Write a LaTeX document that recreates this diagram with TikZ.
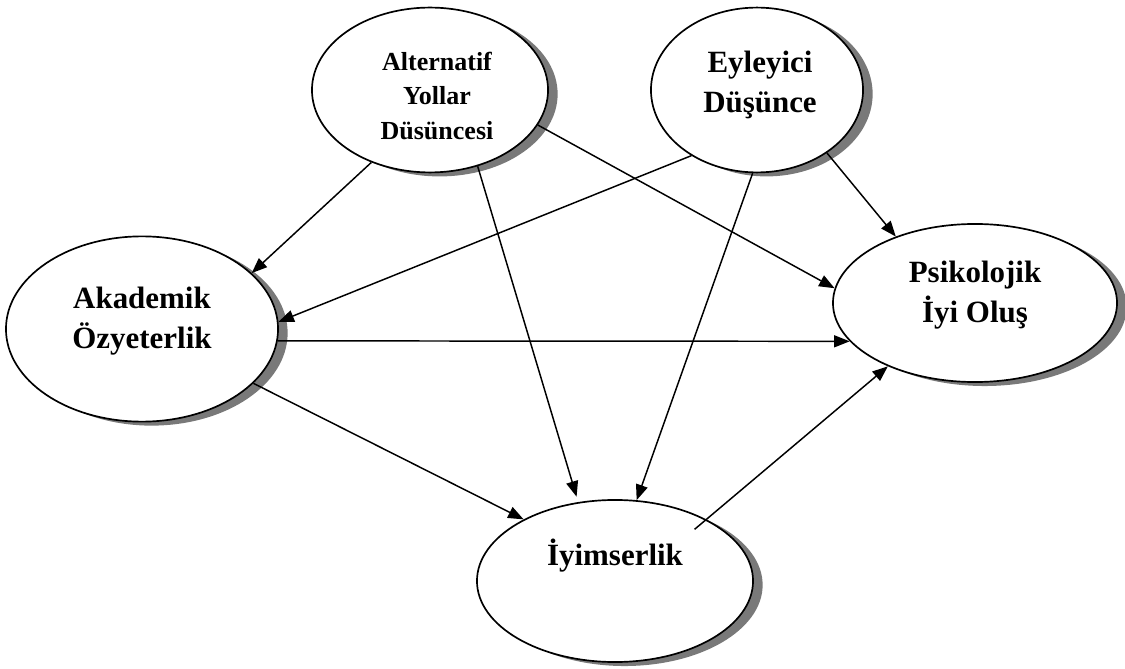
\documentclass[tikz,border=0pt]{standalone}
\usepackage{fontspec}
\setmainfont{Liberation Serif}
\usetikzlibrary{arrows.meta,shapes.geometric,shadows}
\newcommand{\bigtxt}{\fontsize{22}{28.5}\selectfont\bfseries}
\newcommand{\smalltxt}{\fontsize{18.5}{24.5}\selectfont\bfseries}

\begin{document}
\begin{tikzpicture}[x=0.025cm,y=-0.025cm,
  var/.style={ellipse,draw=black,line width=1.2pt,fill=white,inner sep=0pt,
    drop shadow={shadow xshift=0.24cm,shadow yshift=-0.1cm,fill=gray!95!black,opacity=1}},
  lbl/.style={align=center,inner sep=0pt,font=\bigtxt},
  yol/.style={-{Triangle[length=11pt,width=8.5pt]},line width=1.05pt}]
  \useasboundingbox (0,0) rectangle (1125,669);
  % degiskenler
  \node[var,minimum width=5.9cm,minimum height=4.12cm] (ayd) at (430,90) {};
  \node[var,minimum width=5.3cm,minimum height=4.12cm] (eyd) at (757,90) {};
  \node[var,minimum width=6.8cm,minimum height=4.63cm] (aoz) at (142,329) {};
  \node[var,minimum width=7.1cm,minimum height=3.95cm] (pio) at (975,303) {};
  \node[var,minimum width=6.9cm,minimum height=4.05cm] (iym) at (615,581) {};
  \node[lbl,font=\smalltxt] (ayd-t) at (437,96) {Alternatif\\Yollar\\Düsüncesi};
  \node[lbl] (eyd-t) at (760,85) {Eyleyici\\Düşünce};
  \node[lbl] (aoz-t) at (142,321) {Akademik\\Özyeterlik};
  \node[lbl] (pio-t) at (975,295) {Psikolojik\\İyi Oluş};
  \node[lbl] (iym-t) at (615,556) {İyimserlik};
  % yollar
  \draw[yol] (ayd.231.8) -- (aoz.27.8);
  \draw[yol,shorten >=4pt] (ayd.-58.6) -- (iym.115.8);
  \draw[yol] (ayd.-18.6) -- (pio.174.8);
  \draw[yol] (eyd.225) -- (aoz.3.8);
  \draw[yol] (eyd.267.2) -- (iym.75.2);
  \draw[yol] (eyd.-42.2) -- (pio.140.3);
  \draw[yol] (aoz.-5.9) -- (pio.197.3);
  \draw[yol] (aoz.-26.6) -- (iym.146.2);
  \draw[yol,shorten <=-11pt] (iym.34.5) -- (pio.216);
\end{tikzpicture}
\end{document}
